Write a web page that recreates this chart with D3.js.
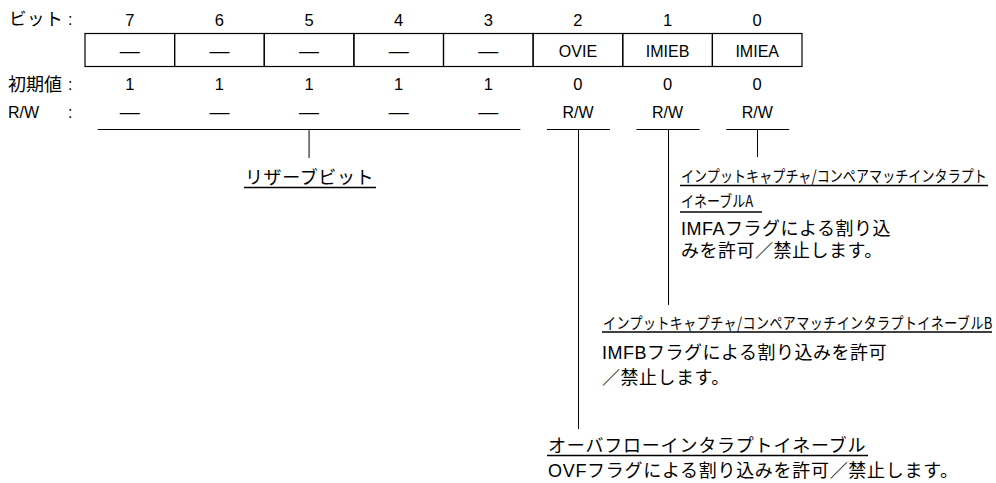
<!DOCTYPE html>
<html><head><meta charset="utf-8">
<script src="https://cdn.jsdelivr.net/npm/d3@7"></script>
<style>
html,body{margin:0;padding:0;background:#fff;}
svg{display:block;}
</style></head>
<body>
<svg id="chart" width="996" height="483"></svg>
<script>
// ---- data ----
const bits = [7, 6, 5, 4, 3, 2, 1, 0];
const bitNames = ["—", "—", "—", "—", "—", "OVIE", "IMIEB", "IMIEA"];
const initialValues = [1, 1, 1, 1, 1, 0, 0, 0];
const rwValues = ["—", "—", "—", "—", "—", "R/W", "R/W", "R/W"];
const rowLabels = ["ビット", "初期値", "R/W"];
const reservedBits = [7, 6, 5, 4, 3];
const reservedTitle = "リザーブビット";
const bit0Title = ["インプットキャプチャ/コンペアマッチインタラプト", "イネーブルA"];
const bit0Desc = ["IMFAフラグによる割り込", "みを許可／禁止します。"];
const bit1Title = ["インプットキャプチャ/コンペアマッチインタラプトイネーブルB"];
const bit1Desc = ["IMFBフラグによる割り込みを許可", "／禁止します。"];
const bit2Title = ["オーバフローインタラプトイネーブル"];
const bit2Desc = ["OVFフラグによる割り込みを許可／禁止します。"];

// ---- layout ----
const svg = d3.select("#chart");
const x = d3.scaleBand().domain(bits).range([85, 802]).paddingInner(0).paddingOuter(0);
const cx = b => x(b) + x.bandwidth() / 2;
const LAT = "'Liberation Sans', Arial, 'Noto Sans CJK JP', sans-serif";
const JP = "'Noto Sans CJK JP', sans-serif";
const boxTop = 33.5, boxBot = 66.5;
const rows = {bit: 26, box: 57, init: 90, rw: 118};
const ulY = 129.5;

// row labels
const lbl = svg.append("g");
lbl.append("text").attr("x", 9).attr("y", 25).attr("font-family", JP).attr("font-size", 17.5)
  .attr("letter-spacing", 0.6).text(rowLabels[0]);
lbl.append("text").attr("x", 8).attr("y", 91).attr("font-family", JP).attr("font-size", 18).text(rowLabels[1]);
lbl.append("text").attr("x", 8).attr("y", rows.rw).attr("font-family", LAT).attr("font-size", 16).text(rowLabels[2]);
[rows.bit - 1, rows.init, rows.rw].forEach(y =>
  lbl.append("text").attr("x", 68).attr("y", y).attr("font-family", LAT).attr("font-size", 16).text(":"));

// bit numbers
svg.append("g").selectAll("text").data(bits).join("text")
  .attr("x", d => cx(d)).attr("y", rows.bit).attr("text-anchor", "middle")
  .attr("font-family", LAT).attr("font-size", 16.5).text(d => d);

// register box
const box = svg.append("g");
box.selectAll("rect").data(bits).join("rect")
  .attr("x", d => x(d)).attr("y", boxTop).attr("width", x.bandwidth()).attr("height", boxBot - boxTop)
  .attr("fill", "none").attr("stroke", "#000").attr("stroke-width", 1.2);
box.selectAll("text").data(bits).join("text")
  .attr("x", d => cx(d)).attr("text-anchor", "middle").attr("font-family", LAT)
  .attr("y", (d, i) => bitNames[i] === "—" ? 52 + 6 : rows.box)
  .attr("font-size", (d, i) => bitNames[i] === "—" ? 20 : 16)
  .text((d, i) => bitNames[i]);

// initial values
svg.append("g").selectAll("text").data(bits).join("text")
  .attr("x", d => cx(d)).attr("y", rows.init).attr("text-anchor", "middle")
  .attr("font-family", LAT).attr("font-size", 16.5).text((d, i) => initialValues[i]);

// R/W
svg.append("g").selectAll("text").data(bits).join("text")
  .attr("x", d => cx(d)).attr("text-anchor", "middle").attr("font-family", LAT)
  .attr("y", (d, i) => rwValues[i] === "—" ? 113 + 6 : rows.rw)
  .attr("font-size", (d, i) => rwValues[i] === "—" ? 20 : 16)
  .text((d, i) => rwValues[i]);

// bracket lines
const lines = svg.append("g").attr("stroke", "#000").attr("stroke-width", 1);
const ext = 32;
const resL = cx(reservedBits[0]) - ext, resR = cx(reservedBits[reservedBits.length - 1]) + ext;
lines.append("line").attr("x1", resL).attr("x2", resR).attr("y1", ulY).attr("y2", ulY);
const resMid = (resL + resR) / 2;
lines.append("line").attr("x1", resMid).attr("x2", resMid).attr("y1", ulY).attr("y2", 158);
const vEnd = {2: 429, 1: 305, 0: 157};
[2, 1, 0].forEach(b => {
  lines.append("line").attr("x1", cx(b) - ext + 1).attr("x2", cx(b) + ext).attr("y1", ulY).attr("y2", ulY);
  lines.append("line").attr("x1", Math.round(cx(b)) + 0.5).attr("x2", Math.round(cx(b)) + 0.5).attr("y1", ulY).attr("y2", vEnd[b]);
});

// text helpers
// condensed gothic: narrow font size, stretched vertically
function cond(s, x0, y, ls = 0) {
  return svg.append("text").attr("transform", `translate(${x0},${y}) scale(1,1.22)`)
    .attr("font-family", JP).attr("font-size", 13).attr("letter-spacing", ls).text(s);
}
function body(s, x0, y, opts = {}) {
  return svg.append("text").attr("x", x0).attr("y", y)
    .attr("font-family", opts.family || LAT).attr("font-size", opts.size || 18)
    .attr("letter-spacing", opts.ls != null ? opts.ls : 0.5).text(s);
}
function uline(x1, x2, y, sw = 1.3, col = "#000") {
  svg.append("line").attr("x1", x1).attr("x2", x2).attr("y1", y).attr("y2", y)
    .attr("stroke", col).attr("stroke-width", sw);
}

// reserved
body(reservedTitle, 245, 184, {family: JP, size: 18, ls: 0.6});
uline(244, 376, 187.5);

// bit 0
cond(bit0Title[0], 681, 182, 0.1);
uline(680, 988, 185.5);
cond(bit0Title[1], 681, 207);
uline(680, 762, 212, 1.8, "#444");
body(bit0Desc[0], 681, 235);
body(bit0Desc[1], 681, 257);

// bit 1
cond(bit1Title[0], 603, 329, 0.45);
uline(602, 992, 332);
body(bit1Desc[0], 602, 359);
body(bit1Desc[1], 602, 384);

// bit 2
body(bit2Title[0], 548, 452, {family: JP, size: 18, ls: 0.8});
uline(547, 868, 455.5);
body(bit2Desc[0], 548, 477, {ls: 0.7});
</script>
</body></html>
